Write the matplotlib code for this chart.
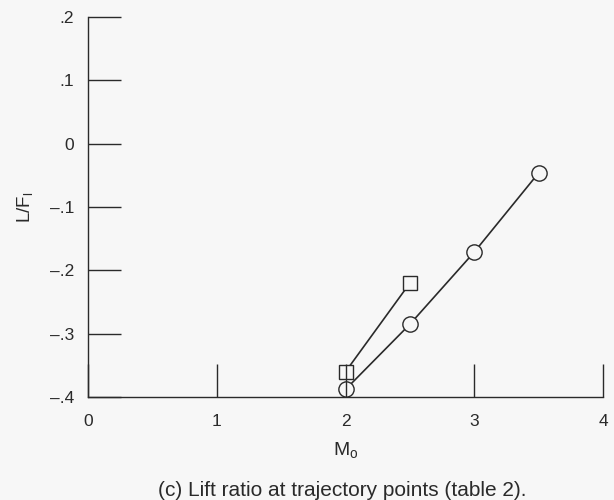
import matplotlib
matplotlib.use('Agg')
import matplotlib.pyplot as plt

# values
mach_circle = [2.0, 2.5, 3.0, 3.5]
lf_circle = [-0.388, -0.285, -0.171, -0.046]
mach_square = [2.0, 2.5]
lf_square = [-0.36, -0.22]

xticks = [0, 1, 2, 3, 4]
yticks = [-0.4, -0.3, -0.2, -0.1, 0, 0.1, 0.2]
ytick_labels = ['\u2013.4', '\u2013.3', '\u2013.2', '\u2013.1', '0', '.1', '.2']

plt.rcParams['font.family'] = ['Liberation Sans', 'DejaVu Sans']
ink = '#2a2a2a'
bg = '#f7f7f7'

fig = plt.figure(figsize=(6.14, 5.0), dpi=100, facecolor=bg)
ax = fig.add_axes([0.1433, 0.206, 0.839, 0.76], facecolor=bg)
ax.set_axisbelow(False)  # ticks show through the markers, as in the original

ax.plot(mach_circle, lf_circle, color=ink, lw=1.2, marker='o', ms=11,
        mfc=bg, mec=ink, mew=1.0, clip_on=False)
ax.plot(mach_square, lf_square, color=ink, lw=1.2, marker='s', ms=10,
        mfc=bg, mec=ink, mew=1.0, clip_on=False)

ax.set_xlim(0, 4)
ax.set_ylim(-0.4, 0.2)
ax.set_xticks(xticks)
ax.set_xticklabels([str(t) for t in xticks])
ax.set_yticks(yticks)
ax.set_yticklabels(ytick_labels)

for s in ['top', 'right']:
    ax.spines[s].set_visible(False)
for s in ['left', 'bottom']:
    ax.spines[s].set_color(ink)
    ax.spines[s].set_linewidth(1.0)

ax.tick_params(axis='both', direction='in', length=24, width=1.0, color=ink,
               labelsize=12.5, labelcolor=ink)
ax.tick_params(axis='x', pad=12)
ax.tick_params(axis='y', pad=10)

ax.set_xlabel('M$_\\mathregular{o}$', fontsize=14, color=ink, labelpad=9)
ax.set_ylabel('L/F$_\\mathregular{l}$', fontsize=13.5, color=ink, labelpad=10)

fig.text(0.557, 0.008, '(c) Lift ratio at trajectory points (table 2).',
         ha='center', va='baseline', fontsize=15, color=ink)

plt.savefig('out.png', dpi=100, facecolor=bg)
